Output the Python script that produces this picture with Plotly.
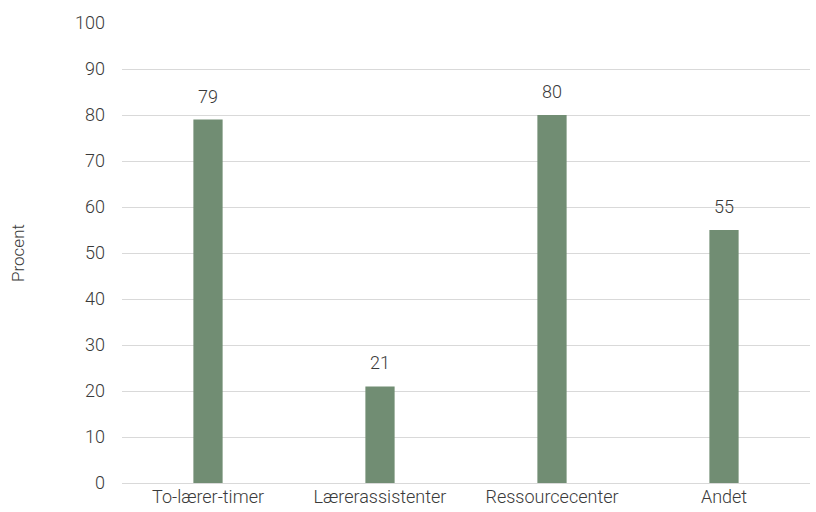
import plotly.graph_objects as go

categories = ["To-lærer-timer", "Lærerassistenter", "Ressourcecenter", "Andet"]
values = [79, 21, 80, 55]
y_ticks = list(range(0, 101, 10))

bar_color = "#718D73"
text_color = "#3A3A3A"
font_family = "Roboto, sans-serif"

fig = go.Figure()
fig.add_trace(go.Bar(x=categories, y=values, marker=dict(color=bar_color, line=dict(width=0)),
                     hoverinfo="skip"))

for c, v in zip(categories, values):
    fig.add_annotation(x=c, y=v, text=str(v), showarrow=False, yanchor="bottom",
                       yshift=11, font=dict(size=18, color=text_color, family=font_family, weight=300))

fig.update_layout(
    width=816, height=512,
    margin=dict(l=122, r=6, t=23, b=29),
    paper_bgcolor="white", plot_bgcolor="white",
    bargap=0.83,
    showlegend=False,
    font=dict(family=font_family, size=18, color=text_color, weight=300),
    xaxis=dict(showgrid=False, showline=False, ticks="", ticklabelstandoff=1,
               tickfont=dict(size=18, color=text_color, weight=300)),
    yaxis=dict(range=[0, 100], tickvals=y_ticks, showgrid=True, gridcolor="#D9D9D9", gridwidth=1,
               zeroline=True, zerolinecolor="#D9D9D9", zerolinewidth=1, showline=False,
               ticks="", ticklabelstandoff=16, tickfont=dict(size=18, color=text_color, weight=300),
               title=dict(text="Procent", standoff=46, font=dict(size=17, color=text_color, weight=300))),
)

fig.write_html("out.html")
